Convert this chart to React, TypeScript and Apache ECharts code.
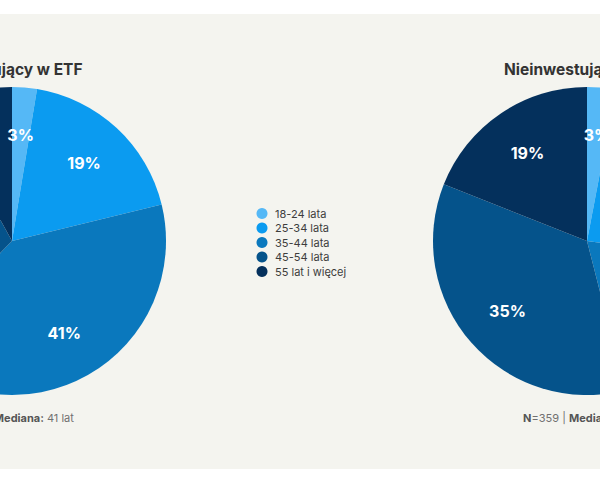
import React, { useEffect, useRef } from 'react';
import * as echarts from 'echarts';

// grupy wiekowe
const ageGroups = ['18-24 lata', '25-34 lata', '35-44 lata', '45-54 lata', '55 lat i więcej'];
const colors = ['#55b8f6', '#0b9bf0', '#0a78bd', '#05538b', '#04305c'];

// udział (%) w każdej grupie
const investors = [2.6, 18.6, 41.2, 29.6, 8.0];
const nonInvestors = [3, 24, 19, 35, 19];

const titles = ['Inwestujący w ETF', 'Nieinwestujący w ETF'];
const sampleN = ['641', '359'];
const medians = ['41 lat', '47 lat'];

const FONT = 'Inter, "Noto Sans", sans-serif';

const App: React.FC = () => {
    const chartRef = useRef<HTMLDivElement>(null);

    useEffect(() => {
        document.body.style.margin = '0';
        if (!chartRef.current) return;
        const myChart = echarts.init(chartRef.current, undefined, { renderer: 'svg' });

        const centers: [number, number][] = [[12, 241], [587, 241]];
        const radius = 154;

        const piePair = (values: number[], idx: number) => [
            {
                type: 'pie',
                center: centers[idx],
                radius: [0, radius],
                startAngle: 90,
                clockwise: true,
                silent: true,
                label: { show: false },
                labelLine: { show: false },
                data: values.map((v, i) => ({ name: ageGroups[i], value: v, itemStyle: { color: colors[i] } })),
                z: 2
            },
            {
                // przezroczysta warstwa tylko dla etykiet (dalej od środka)
                type: 'pie',
                center: centers[idx],
                radius: [0, 206],
                startAngle: 90,
                clockwise: true,
                silent: true,
                itemStyle: { color: 'transparent' },
                label: {
                    show: true,
                    position: 'inside',
                    formatter: (p: any) => `${Math.round(p.value)}%`,
                    color: '#ffffff',
                    fontSize: 16,
                    fontWeight: 'bold',
                    fontFamily: FONT
                },
                labelLine: { show: false },
                data: values.map(v => ({ value: v })),
                z: 3
            }
        ];

        const option: any = {
            animation: false,
            backgroundColor: '#ffffff',
            legend: {
                data: ageGroups,
                orient: 'vertical',
                left: 251.5,
                top: 203,
                icon: 'circle',
                itemWidth: 16,
                itemHeight: 11,
                itemGap: 3.5,
                selectedMode: false,
                textStyle: { fontSize: 11, color: '#3d3d3d', fontFamily: FONT }
            },
            graphic: [
                { type: 'rect', z: -10, shape: { x: 0, y: 14, width: 600, height: 455 }, style: { fill: '#f4f4ef' } },
                ...titles.map((t, i) => ({
                    type: 'text',
                    x: centers[i][0],
                    y: 69,
                    style: {
                        text: t,
                        textAlign: 'center',
                        textVerticalAlign: 'middle',
                        fontSize: 15.5,
                        fontWeight: 'bold',
                        fill: '#333333',
                        fontFamily: FONT
                    }
                })),
                ...sampleN.map((n, i) => ({
                    type: 'text',
                    x: centers[i][0],
                    y: 418,
                    style: {
                        text: `{b|N}=${n} | {b|Mediana:} ${medians[i]}`,
                        textAlign: 'center',
                        textVerticalAlign: 'middle',
                        fontSize: 11,
                        fill: '#707070',
                        fontFamily: FONT,
                        rich: {
                            b: { fontWeight: 'bold', fontSize: 11, fill: '#555555', fontFamily: FONT }
                        }
                    }
                }))
            ],
            series: [...piePair(investors, 0), ...piePair(nonInvestors, 1)]
        };

        myChart.setOption(option);

        return () => {
            myChart.dispose();
        };
    }, []);

    return <div ref={chartRef} style={{ width: '600px', height: '480px' }} />;
};

export default App;
